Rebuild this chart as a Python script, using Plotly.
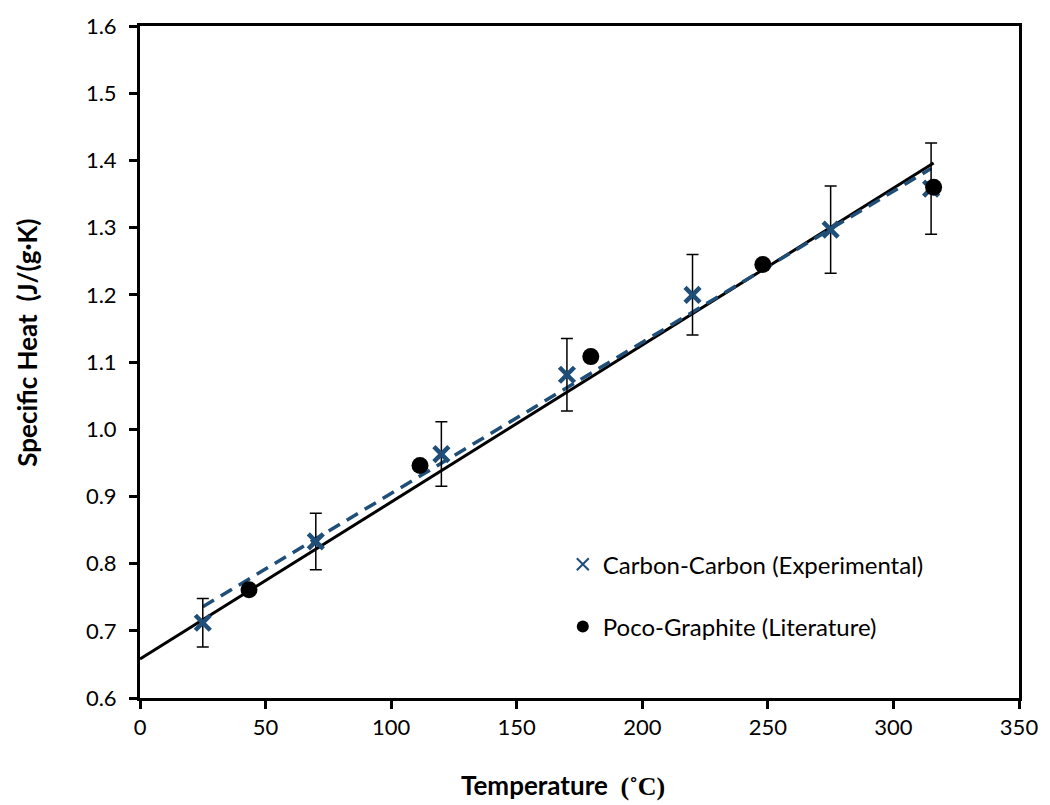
import numpy as np
import plotly.graph_objects as go

# Carbon-Carbon (experimental)
cc_temp = [25, 70, 120, 170, 220, 275, 315]
cc_cp = [0.712, 0.833, 0.963, 1.081, 1.200, 1.297, 1.358]
cc_err = [0.036, 0.042, 0.048, 0.054, 0.060, 0.065, 0.068]

# Poco-Graphite (literature)
pg_temp = [43.4, 111.5, 179.5, 248.0, 316.0]
pg_cp = [0.761, 0.946, 1.108, 1.245, 1.360]

# Solid reference line (endpoints)
ref_temp = [0, 316]
ref_cp = [0.658, 1.396]

x_ticks = [0, 50, 100, 150, 200, 250, 300, 350]
y_ticks = [0.6, 0.7, 0.8, 0.9, 1.0, 1.1, 1.2, 1.3, 1.4, 1.5, 1.6]

BLUE = "#1F4E79"
FONT = "Lato"

# Linear trendline of Carbon-Carbon data
slope, intercept = np.polyfit(cc_temp, cc_cp, 1)
trend_x = [cc_temp[0], cc_temp[-1]]
trend_y = [intercept + slope * t for t in trend_x]

fig = go.Figure()

fig.add_trace(go.Scatter(x=ref_temp, y=ref_cp, mode="lines",
                         line=dict(color="black", width=3), showlegend=False,
                         hoverinfo="skip"))
fig.add_trace(go.Scatter(x=trend_x, y=trend_y, mode="lines",
                         line=dict(color=BLUE, width=3.5, dash="13px,8px"),
                         showlegend=False, hoverinfo="skip"))
fig.add_trace(go.Scatter(x=cc_temp, y=cc_cp, mode="markers",
                         name="Carbon-Carbon (Experimental)", legendgroup="a",
                         marker=dict(symbol="x-thin-open", size=15,
                                     line=dict(color=BLUE, width=4.5), color=BLUE),
                         error_y=dict(type="data", array=cc_err, visible=True,
                                      color="black", thickness=1.5, width=6)))
fig.add_trace(go.Scatter(x=pg_temp, y=pg_cp, mode="markers",
                         name="Poco-Graphite (Literature)", legendgroup="b",
                         marker=dict(symbol="circle", size=17, color="black")))

axis_common = dict(showline=True, linecolor="black", linewidth=3, mirror=True,
                   ticks="outside", ticklen=8, tickwidth=3, tickcolor="black",
                   showgrid=False, zeroline=False,
                   tickfont=dict(family=FONT, size=22, color="black"))

fig.update_xaxes(range=[0, 350], tickvals=x_ticks,
                 ticktext=[str(v) for v in x_ticks], **axis_common)
fig.update_yaxes(range=[0.6, 1.6], tickvals=y_ticks, ticklabelstandoff=8,
                 ticktext=[f"{v:.1f}" for v in y_ticks], **axis_common)

fig.update_layout(
    width=1050, height=805,
    margin=dict(l=140, r=22, t=23, b=107),
    paper_bgcolor="white", plot_bgcolor="white",
    font=dict(family=FONT, size=22, color="black"),
    showlegend=True,
    legend=dict(x=0.481, y=0.232, xanchor="left", yanchor="top",
                bgcolor="rgba(0,0,0,0)", tracegroupgap=28,
                font=dict(family=FONT, size=24, color="black"),
                itemsizing="constant"),
    annotations=[
        dict(text="<b>Temperature  </b><b><span style='font-family:Liberation Serif'>(˚C)</span></b>",
             xref="paper", yref="paper", x=0.481, y=-0.129, xanchor="center",
             yanchor="middle", showarrow=False,
             font=dict(family=FONT, size=26, color="black")),
        dict(text="<b>Specific Heat  (J/(g·K)</b>",
             xref="paper", yref="paper", x=-0.1295, y=0.529, xanchor="center",
             yanchor="middle", textangle=-90, showarrow=False,
             font=dict(family=FONT, size=26, color="black")),
    ],
)

fig.write_html("out.html")
